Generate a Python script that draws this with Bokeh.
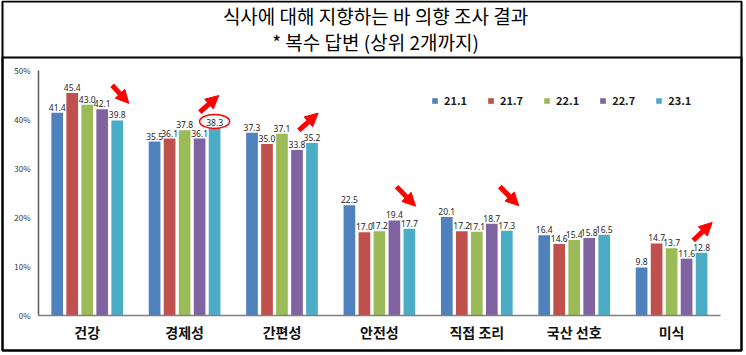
from bokeh.plotting import figure
from bokeh.models import (ColumnDataSource, Range1d, Legend, LegendItem, LinearAxis,
                          Arrow, NormalHead, BoxAnnotation, Label, FixedTicker,
                          PrintfTickFormatter)
from bokeh.transform import dodge
from bokeh.core.properties import value
from bokeh.embed import file_html
from bokeh.resources import INLINE

# ---------------- data ----------------
categories = ["건강", "경제성", "간편성", "안전성", "직접 조리", "국산 선호", "미식"]
series_names = ["21.1", "21.7", "22.1", "22.7", "23.1"]
v_21_1 = [41.4, 35.5, 37.3, 22.5, 20.1, 16.4, 9.8]
v_21_7 = [45.4, 36.1, 35.0, 17.0, 17.2, 14.6, 14.7]
v_22_1 = [43.0, 37.8, 37.1, 17.2, 17.1, 15.4, 13.7]
v_22_7 = [42.1, 36.1, 33.8, 19.4, 18.7, 15.8, 11.6]
v_23_1 = [39.8, 38.3, 35.2, 17.7, 17.3, 16.5, 12.8]
y_ticks = [0, 10, 20, 30, 40, 50]
title_line1 = "식사에 대해 지향하는 바 의향 조사 결과"
title_line2 = "* 복수 답변 (상위 2개까지)"

series_values = [v_21_1, v_21_7, v_22_1, v_22_7, v_23_1]

# ---------------- styles ----------------
colors = ["#4F81BD", "#C0504D", "#9BBB59", "#8064A2", "#4BACC6"]
step = 0.154
bar_w = 0.12
offsets = [(i - 2) * step for i in range(5)]
FONT = "Noto Sans CJK KR"
W, H = 746, 355
X0_PX, Y0_PX = 38, 315          # pixel position of the plot origin (0 %, first category edge)
PX_PER_CAT, PX_PER_PCT = 97.4, 4.9

cat_pos = [k + 0.5 for k in range(len(categories))]
data = dict(cat=categories, xc=cat_pos)
for i, vals in enumerate(series_values):
    data[f"s{i}"] = vals
    data[f"t{i}"] = [f"{v:.1f}" for v in vals]
src = ColumnDataSource(data)

x_range = Range1d(-X0_PX / PX_PER_CAT, (W - X0_PX) / PX_PER_CAT)
y_range = Range1d(-(H - Y0_PX) / PX_PER_PCT, Y0_PX / PX_PER_PCT)

p = figure(width=W, height=H, x_range=x_range, y_range=y_range,
           output_backend="svg", toolbar_location=None,
           x_axis_location=None, y_axis_location=None,
           min_border=0, min_border_left=0, min_border_right=0,
           min_border_top=0, min_border_bottom=0)
p.outline_line_color = None
p.xgrid.visible = False
p.ygrid.visible = False
p.background_fill_color = "white"
p.border_fill_color = "white"

renderers = []
for i in range(5):
    r = p.vbar(x=dodge("xc", offsets[i]), top=f"s{i}", width=bar_w,
               source=src, fill_color=colors[i], line_color=None)
    renderers.append(r)
    p.text(x=dodge("xc", offsets[i]), y=f"s{i}", text=f"t{i}",
           source=src, text_align="center", text_baseline="bottom", y_offset=-2,
           text_font=value("Noto Sans"), text_font_size="8.5px", text_color="#262626")

# axes (drawn at the data origin)
yax = LinearAxis(fixed_location=0, ticker=FixedTicker(ticks=y_ticks),
                 formatter=PrintfTickFormatter(format="%d%%"), bounds=(0, 50))
yax.major_tick_line_color = None
yax.minor_tick_line_color = None
yax.major_tick_out = 0
yax.major_tick_in = 0
yax.major_label_standoff = 8
yax.major_label_text_font = FONT
yax.major_label_text_font_size = "8px"
yax.major_label_text_color = "#333333"
yax.axis_line_color = "#595959"
yax.axis_line_width = 1.5
p.add_layout(yax, "left")

xax = LinearAxis(fixed_location=0, ticker=FixedTicker(ticks=cat_pos),
                 major_label_overrides={x: c for x, c in zip(cat_pos, categories)},
                 bounds=(0, len(categories)))
xax.major_tick_line_color = None
xax.minor_tick_line_color = None
xax.major_tick_out = 0
xax.major_tick_in = 0
xax.major_label_standoff = 6
xax.major_label_text_font = FONT
xax.major_label_text_font_size = "14px"
xax.major_label_text_font_style = "bold"
xax.major_label_text_color = "#111111"
xax.axis_line_color = "#7f7f7f"
xax.axis_line_width = 1.5
p.add_layout(xax, "below")

# legend
legend = Legend(items=[LegendItem(label=n, renderers=[r]) for n, r in zip(series_names, renderers)],
                orientation="horizontal", location=(393 + X0_PX, 207 + (H - Y0_PX)),
                padding=0, margin=0,
                spacing=20, glyph_width=7, glyph_height=7, label_height=7,
                label_standoff=6, border_line_color=None, background_fill_alpha=0,
                label_text_font=FONT, label_text_font_size="11px",
                label_text_font_style="bold", label_text_color="#1a1a1a")
p.add_layout(legend)

# highlight ellipse around one label (경제성, 23.1)
hi_cat, hi_ser = 1, 4
p.ellipse(x=[cat_pos[hi_cat] + offsets[hi_ser]], y=[series_values[hi_ser][hi_cat] + 1.3],
          width=30, height=14, width_units="screen", height_units="screen",
          fill_color=None, line_color="red", line_width=1.5)

# red trend arrows (annotations)
arrows = ColumnDataSource(dict(
    x0=[0.756, 1.656, 2.673, 3.676, 4.736, 6.722],
    y0=[47.0, 41.5, 37.8, 26.3, 26.3, 15.3],
    x1=[0.927, 1.851, 2.871, 3.871, 4.931, 6.917],
    y1=[43.3, 44.9, 41.3, 22.3, 22.4, 19.0],
))
p.add_layout(Arrow(x_start="x0", y_start="y0", x_end="x1", y_end="y1", source=arrows,
                   line_color="red", line_width=5,
                   end=NormalHead(size=13, fill_color="red", line_color="red")))

# header & frame (screen units, origin at bottom-left of the canvas)
for lab, yy in [(title_line1, H - 15), (title_line2, H - 41)]:
    p.add_layout(Label(x=W / 2 + 2, y=yy, x_units="screen", y_units="screen", text=lab,
                       text_align="center", text_baseline="middle",
                       text_font=FONT, text_font_size="19px", text_color="black"))
for top in (H - 1, H - 57):
    p.add_layout(BoxAnnotation(left=2, right=741, top=top, bottom=H - 350,
                               left_units="screen", right_units="screen",
                               top_units="screen", bottom_units="screen",
                               fill_color=None, line_color="black", line_width=2,
                               line_alpha=1))

open("out.html", "w").write(file_html(p, INLINE))
